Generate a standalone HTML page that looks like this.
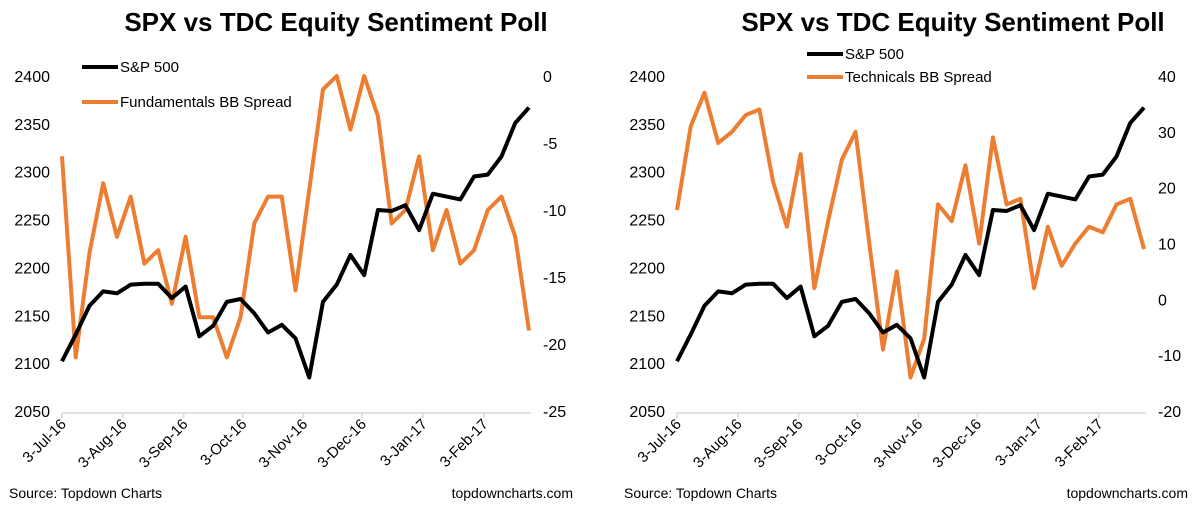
<!DOCTYPE html>
<html><head><meta charset="utf-8"><style>
body{margin:0;background:#fff;width:1200px;height:511px;overflow:hidden}
svg{font-family:"Liberation Sans",Arial,sans-serif}
</style></head><body>
<svg id="c" width="1200" height="511" viewBox="0 0 1200 511"></svg>
<script>
const dates=["3-Jul-16","3-Aug-16","3-Sep-16","3-Oct-16","3-Nov-16","3-Dec-16","3-Jan-17","3-Feb-17"];
const tickDays=[0,31,62,92,123,153,184,215];
const spx=[2102,2130,2160,2175,2173,2182,2183,2183,2168,2180,2128,2139,2164,2167,2152,2132,2140,2126,2085,2164,2182,2213,2192,2260,2259,2265,2239,2277,2274,2271,2295,2297,2316,2351,2367];
const fundamentals=[-6,-21,-13.2,-8,-12,-9,-14,-13,-17,-12,-18,-18,-21,-18,-11,-9,-9,-16,-8.5,-1,0,-4,0,-3,-11,-10,-6,-13,-10,-14,-13,-10,-9,-12,-19];
const technicals=[16,31,37,28,30,33,34,21,13,26,2,14,25,30,10,-9,5,-14,-7,17,14,24,10,29,17,18,2,13,6,10,13,12,17,18,9];
const leftTicks=[2050,2100,2150,2200,2250,2300,2350,2400];
const fundTicks=[-25,-20,-15,-10,-5,0];
const techTicks=[-20,-10,0,10,20,30,40];
const NS="http://www.w3.org/2000/svg";
const svg=document.getElementById('c');
function mk(tag,attrs,parent,text){const e=document.createElementNS(NS,tag);for(const k in attrs)e.setAttribute(k,attrs[k]);if(text!==undefined)e.textContent=text;(parent||svg).appendChild(e);return e;}
function panel(ox,name,series,rTicks,rMin,rMax,legendX,legendY1,legendY2,titleCx){
  const g=mk('g',{});
  
  
  const x0=ox+62,x1=ox+529,yT=76,yB=411;
  const xs=i=>x0+(x1-x0)*i/(spx.length-1);
  const xd=d=>x0+d*(x1-x0)/238;
  const yl=v=>yB-(v-2050)/(2400-2050)*(yB-yT);
  const yr=v=>yB-(v-rMin)/(rMax-rMin)*(yB-yT);
  const t=mk('text',{x:titleCx,y:31,'text-anchor':'middle','font-size':26,'font-weight':'bold',fill:'#000'},g,'SPX vs TDC Equity Sentiment Poll');
  
  
  const ax=mk('line',{x1:x0,x2:x1+2,y1:yB+2,y2:yB+2,stroke:'#d9d9d9','stroke-width':1.5},g);
  
  
  leftTicks.forEach(v=>{const e=mk('text',{x:ox+50,y:yl(v)+6,'text-anchor':'end','font-size':16,fill:'#000'},g,String(v));
    
    });
  rTicks.forEach(v=>{const e=mk('text',{x:ox+543,y:yr(v)+6,'text-anchor':'start','font-size':16,fill:'#000'},g,String(v));
    
    });
  dates.forEach((d,i)=>{const x=xd(tickDays[i]);
    const tk=mk('line',{x1:x,x2:x,y1:yB+2,y2:yB+7,stroke:'#d9d9d9','stroke-width':1.5},g);
    
    
    const e=mk('text',{x:x+5,y:yB+14,'text-anchor':'end','font-size':15,fill:'#000',transform:`rotate(-45 ${x+5} ${yB+14})`},g,d);
    
    });
  const pO=mk('polyline',{points:series.map((v,i)=>xs(i)+','+yr(v)).join(' '),fill:'none',stroke:'#ED7D31','stroke-width':4,'stroke-linejoin':'round'},g);
  
  
  const pB=mk('polyline',{points:spx.map((v,i)=>xs(i)+','+yl(v)).join(' '),fill:'none',stroke:'#000','stroke-width':4,'stroke-linejoin':'round'},g);
  
  
  [[legendY1,'#000','S&P 500','legend-sp500'],[legendY2,'#ED7D31',name==='fundamentals'?'Fundamentals BB Spread':'Technicals BB Spread','legend-bb-spread']].forEach(([y,c,l,n])=>{
    const lg=mk('g',{},g);
    
    
    mk('line',{x1:legendX,x2:legendX+36,y1:y,y2:y,stroke:c,'stroke-width':4},lg);
    mk('text',{x:legendX+38,y:y+5,'font-size':15,fill:'#000'},lg,l);
  });
  const s=mk('text',{x:ox+9,y:498,'font-size':14,fill:'#000'},g,'Source: Topdown Charts');
  
  
  const w=mk('text',{x:ox+573,y:498,'text-anchor':'end','font-size':14,fill:'#000'},g,'topdowncharts.com');
  
  
}
panel(0,'fundamentals',fundamentals,fundTicks,-25,0,82,67,102,336);
panel(615,'technicals',technicals,techTicks,-20,40,807,54,77,953);
</script>
</body></html>
